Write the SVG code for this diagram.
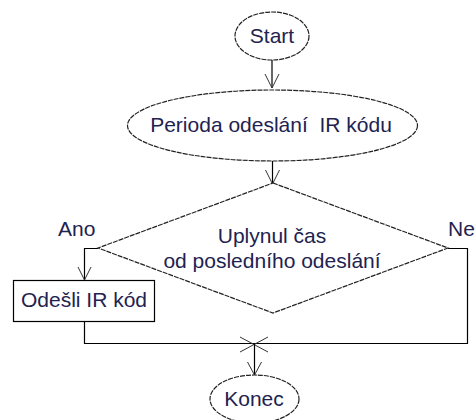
<svg xmlns="http://www.w3.org/2000/svg" width="475" height="420" viewBox="0 0 475 420">
<style>
.shape{fill:#fff;stroke:#222;stroke-width:1.2;stroke-dasharray:5 1}
.box{fill:#fff;stroke:#000;stroke-width:1.2}
.t{font-family:"Liberation Sans",Arial,sans-serif;font-size:21px;fill:#1e2350}
.c{text-anchor:middle}
.line{fill:none;stroke:#000;stroke-width:1.2}
.head{fill:none;stroke:#333;stroke-width:1}
</style>
<rect width="475" height="420" fill="#fff"/>
<g id="connectors">
<path class="line" d="M272 60V88"/>
<path class="head" d="M265 74L272 88L279 74"/>
<path class="line" d="M272.5 161V184"/>
<path class="head" d="M265.5 170L272.5 184L279.5 170"/>
<path class="line" d="M98 248.5H84.5V280"/>
<path class="head" d="M78 267L84.5 280L91 267"/>
<path class="line" d="M448 248.5H467.5V343.5H84.5V322"/>
<path class="head" d="M240 337L268 352M240 352L268 337"/>
<path class="line" d="M254.5 343.5V375"/>
<path class="head" d="M247.5 362L254.5 375L261.5 362"/>
<text class="t" x="58" y="236">Ano</text>
<text class="t" x="448" y="236">Ne</text>
</g>
<g id="start">
<ellipse class="shape" cx="272" cy="36" rx="37" ry="24"/>
<text class="t c" x="272" y="43">Start</text>
</g>
<g id="perioda">
<ellipse class="shape" cx="272.5" cy="125.5" rx="145" ry="35.5"/>
<text class="t c" x="271" y="132" xml:space="preserve">Perioda odeslání  IR kódu</text>
</g>
<g id="decision">
<polygon class="shape" points="273,183 448,248 273,313 98,248"/>
<text class="t c" x="272" y="243">Uplynul čas</text>
<text class="t c" x="272" y="268">od posledního odeslání</text>
</g>
<g id="odesli">
<rect class="box" x="13.5" y="280.5" width="141" height="41"/>
<text class="t c" x="84" y="307">Odešli IR kód</text>
</g>
<g id="konec">
<ellipse class="shape" cx="254.5" cy="399" rx="44.5" ry="24"/>
<text class="t c" x="254" y="406">Konec</text>
</g>
</svg>
